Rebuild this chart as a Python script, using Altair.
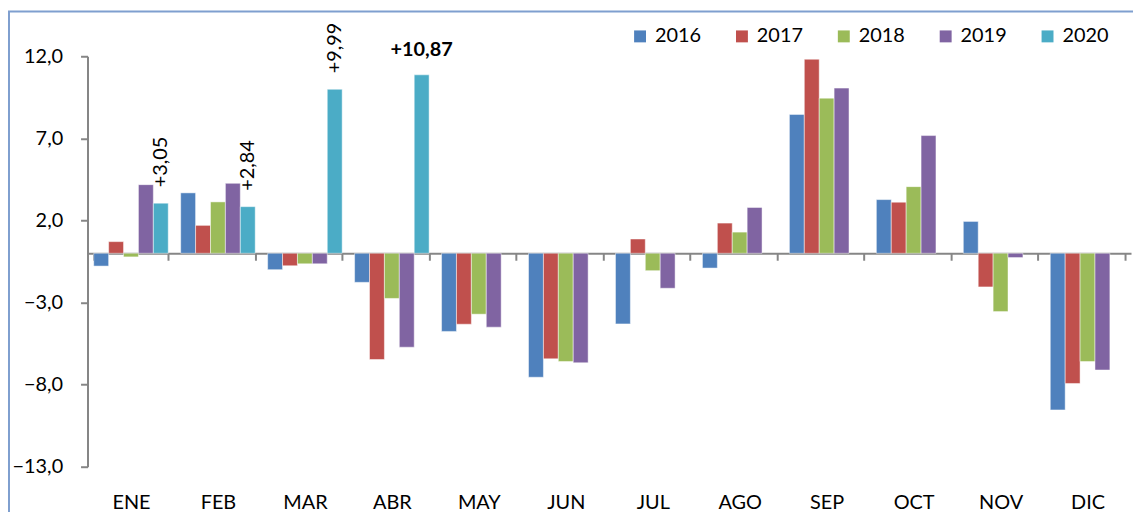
import altair as alt
import pandas as pd

months = ["ENE", "FEB", "MAR", "ABR", "MAY", "JUN", "JUL", "AGO", "SEP", "OCT", "NOV", "DIC"]
years = ["2016", "2017", "2018", "2019", "2020"]
colors = ["#4F81BD", "#C0504D", "#9BBB59", "#8064A2", "#4BACC6"]

v2016 = [-0.78, 3.68, -1.00, -1.77, -4.76, -7.55, -4.30, -0.90, 8.46, 3.27, 1.94, -9.54]
v2017 = [0.71, 1.70, -0.76, -6.47, -4.32, -6.43, 0.87, 1.84, 11.82, 3.11, -2.05, -7.93]
v2018 = [-0.22, 3.13, -0.64, -2.75, -3.71, -6.59, -1.06, 1.29, 9.45, 4.06, -3.55, -6.59]
v2019 = [4.18, 4.26, -0.64, -5.72, -4.50, -6.67, -2.13, 2.79, 10.06, 7.17, -0.26, -7.11]
v2020 = [3.05, 2.84, 9.99, 10.87]

y_ticks = [-13, -8, -3, 2, 7, 12]
rotated_label_months = ["ENE", "FEB", "MAR"]
bold_label_months = ["ABR"]

rows = []
for yr, vals in zip(years, [v2016, v2017, v2018, v2019, v2020]):
    for m, v in zip(months, vals):
        rows.append({"mes": m, "anio": yr, "valor": v})
df = pd.DataFrame(rows)

W, H = 1050, 413
Y_MIN, Y_MAX = -13, 12
zero_from_bottom = H * (0 - Y_MIN) / (Y_MAX - Y_MIN)

FONT = "Lato"
GREY = "#868686"

x_enc = alt.X(
    "mes:N",
    sort=months,
    scale=alt.Scale(domain=months, paddingInner=0.143, paddingOuter=0.0715),
    axis=alt.Axis(
        title=None,
        orient="bottom",
        offset=-zero_from_bottom,
        tickBand="extent",
        domainColor=GREY,
        domainWidth=2,
        tickColor=GREY,
        tickWidth=2,
        tickSize=7,
        labelAngle=0,
        labelFont=FONT,
        labelFontSize=20,
        labelColor="black",
        labelPadding=234,
    ),
)
xo_enc = alt.XOffset("anio:N", sort=years, scale=alt.Scale(domain=years, paddingInner=0, paddingOuter=0))
y_enc = alt.Y(
    "valor:Q",
    scale=alt.Scale(domain=[Y_MIN, Y_MAX], nice=False, zero=False),
    axis=alt.Axis(
        title=None,
        values=y_ticks,
        labelExpr="replace(format(datum.value, '.1f'), '.', ',')",
        grid=False,
        domainColor=GREY,
        domainWidth=2,
        tickColor=GREY,
        tickWidth=2,
        tickSize=7,
        labelFont=FONT,
        labelFontSize=20,
        labelColor="black",
        labelPadding=18,
    ),
)

base = alt.Chart(df)

bars = base.mark_bar(stroke="white", strokeWidth=0.8, strokeOpacity=0.6).encode(
    x=x_enc,
    xOffset=xo_enc,
    y=y_enc,
    color=alt.Color(
        "anio:N",
        sort=years,
        scale=alt.Scale(domain=years, range=colors),
        legend=alt.Legend(
            title=None,
            orient="none",
            legendX=546,
            legendY=-30,
            direction="horizontal",
            symbolType="square",
            symbolSize=144,
            symbolStrokeWidth=0,
            labelFont=FONT,
            labelFontSize=20,
            labelColor="black",
            labelOffset=5,
            columnPadding=30.5,
            padding=0,
        ),
    ),
)

lab = base.transform_filter("datum.anio == '2020'").transform_calculate(
    txt="'+' + replace(format(datum.valor, '.2f'), '.', ',')"
)

rot_text = lab.transform_filter(
    alt.FieldOneOfPredicate(field="mes", oneOf=rotated_label_months)
).mark_text(angle=270, align="left", baseline="middle", dx=16, font=FONT, fontSize=20, color="black").encode(
    x=alt.X("mes:N", sort=months), xOffset=alt.XOffset("anio:N", sort=years), y="valor:Q", text="txt:N"
)

bold_text = lab.transform_filter(
    alt.FieldOneOfPredicate(field="mes", oneOf=bold_label_months)
).mark_text(align="center", baseline="alphabetic", dy=-19, font=FONT, fontSize=20, fontWeight="bold", color="black").encode(
    x=alt.X("mes:N", sort=months), xOffset=alt.XOffset("anio:N", sort=years), y="valor:Q", text="txt:N"
)

border = alt.Chart(pd.DataFrame({"k": [0]})).mark_rect(
    fill=None, fillOpacity=0, stroke="#7F9FCF", strokeWidth=2
).encode(
    x=alt.value(-79), x2=alt.value(W + 60), y=alt.value(-45), y2=alt.value(H + 80)
)

chart = alt.layer(border, bars, rot_text, bold_text).properties(
    width=W,
    height=H,
    padding={"left": 80, "top": 47, "right": 2, "bottom": 44},
    autosize=alt.AutoSizeParams(type="none"),
    background="white",
).configure_view(stroke=None)

chart.save("out.html", embed_options={"renderer": "svg", "actions": False})
